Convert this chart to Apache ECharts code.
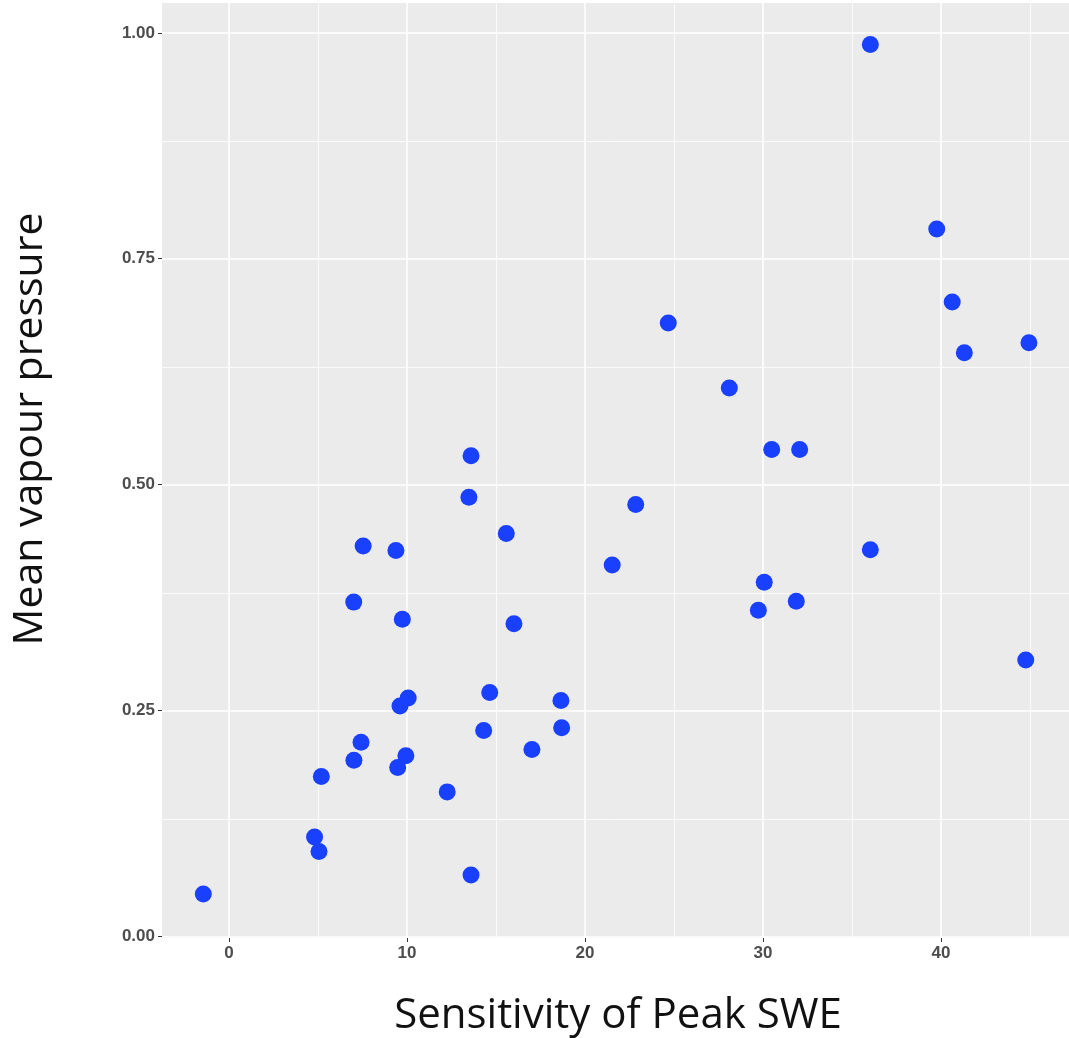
<!DOCTYPE html>
<html>
<head>
<meta charset="utf-8">
<script src="https://cdn.jsdelivr.net/npm/echarts@6/dist/echarts.min.js"></script>
<style>
  html, body { margin: 0; padding: 0; background: #fff; }
  #main { width: 1069px; height: 1038px; }
</style>
</head>
<body>
<div id="main"></div>
<script>
// sensitivity of peak SWE (x) vs mean vapour pressure (y)
var sweSens = [-1.44, 4.81, 5.06, 5.19, 7.02, 7.42, 7.01, 7.54, 9.38, 9.74, 9.61, 10.07, 9.48, 9.94,
  12.26, 13.60, 13.48, 13.60, 15.58, 16.01, 14.65, 14.31, 17.02, 18.65, 18.69, 21.53, 22.85, 24.68,
  28.11, 30.49, 32.06, 30.07, 29.74, 31.87, 36.03, 36.03, 39.76, 40.63, 41.31, 44.94, 44.76];
var vapour = [0.047, 0.110, 0.094, 0.177, 0.195, 0.215, 0.370, 0.432, 0.427, 0.351, 0.255, 0.264, 0.187, 0.200,
  0.160, 0.068, 0.486, 0.532, 0.446, 0.346, 0.270, 0.228, 0.207, 0.261, 0.231, 0.411, 0.478, 0.679,
  0.607, 0.539, 0.539, 0.392, 0.361, 0.371, 0.987, 0.428, 0.783, 0.702, 0.646, 0.657, 0.306];

var xTicks = [0, 10, 20, 30, 40];
var xMinor = [5, 15, 25, 35, 45];
var yTicks = [0, 0.25, 0.5, 0.75, 1.0];
var yMinor = [0.125, 0.375, 0.625, 0.875];

var points = [];
for (var i = 0; i < sweSens.length; i++) {
  points.push([sweSens[i], vapour[i]]);
}

// ggplot-like white grid, minor lines thinner
var gridLines = [];
xMinor.forEach(function (v) { gridLines.push({ xAxis: v, lineStyle: { width: 0.8 } }); });
yMinor.forEach(function (v) { gridLines.push({ yAxis: v, lineStyle: { width: 0.8 } }); });
xTicks.forEach(function (v) { gridLines.push({ xAxis: v, lineStyle: { width: 1.6 } }); });
yTicks.forEach(function (v) { gridLines.push({ yAxis: v, lineStyle: { width: 1.6 } }); });

var tickLabelStyle = {
  fontFamily: 'Liberation Sans',
  fontWeight: 'bold',
  fontSize: 17,
  color: '#4d4d4d'
};

var myChart = echarts.init(document.getElementById('main'));
var option = {
  animation: false,
  grid: {
    left: 162, top: 3, right: 0, bottom: 100,
    show: true,
    backgroundColor: '#ebebeb',
    borderWidth: 0
  },
  xAxis: {
    type: 'value',
    min: -3.76,
    max: 47.19,
    axisLine: { show: false, onZero: false },
    splitLine: { show: false },
    axisTick: { show: true, length: 4, customValues: xTicks, lineStyle: { color: '#333', width: 1 } },
    axisLabel: Object.assign({ customValues: xTicks, margin: 7 }, tickLabelStyle)
  },
  yAxis: {
    type: 'value',
    min: -0.0017,
    max: 1.033,
    axisLine: { show: false, onZero: false },
    splitLine: { show: false },
    axisTick: { show: true, length: 4, customValues: yTicks, lineStyle: { color: '#333', width: 1 } },
    axisLabel: Object.assign({
      customValues: yTicks,
      margin: 7,
      formatter: function (v) { return v.toFixed(2); }
    }, tickLabelStyle)
  },
  graphic: [
    {
      type: 'text',
      x: 30, y: 429,
      rotation: Math.PI / 2,
      style: {
        text: 'Mean vapour pressure',
        font: '41px "Open Sans"',
        fill: '#111',
        align: 'center',
        verticalAlign: 'middle'
      }
    },
    {
      type: 'text',
      x: 618, y: 1016,
      style: {
        text: 'Sensitivity of Peak SWE',
        font: '42px "Open Sans"',
        fill: '#111',
        align: 'center',
        verticalAlign: 'middle'
      }
    }
  ],
  series: [
    {
      type: 'scatter',
      data: [],
      z: 1,
      silent: true,
      markLine: {
        silent: true,
        symbol: 'none',
        label: { show: false },
        lineStyle: { color: '#ffffff', type: 'solid' },
        data: gridLines
      }
    },
    {
      type: 'scatter',
      name: 'sites',
      z: 5,
      symbol: 'circle',
      symbolSize: 17,
      itemStyle: { color: '#1a40ff', opacity: 1 },
      data: points
    }
  ]
};
myChart.setOption(option);
</script>
</body>
</html>
